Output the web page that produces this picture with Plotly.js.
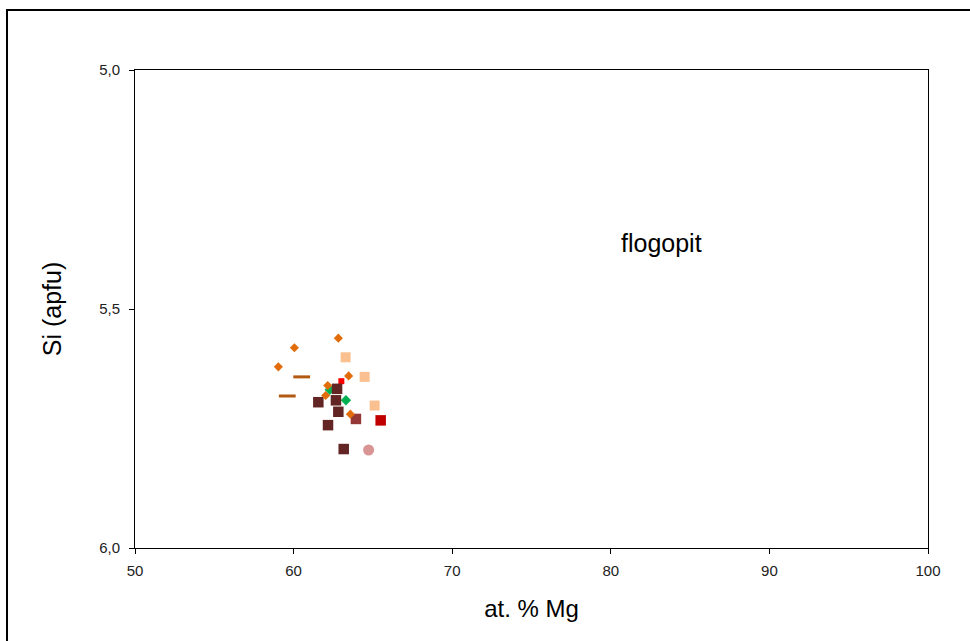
<!DOCTYPE html>
<html><head><meta charset="utf-8">
<script src="https://cdn.plot.ly/plotly-3.0.1.min.js"></script>
<style>html,body{margin:0;padding:0;background:#fff}#chart{width:970px;height:641px}</style>
</head><body><div id="chart"></div>
<script>
// Data
const peachX = [63.28, 64.48, 65.11];
const peachY = [5.601, 5.642, 5.702];
const redSmallX = [63.01];
const redSmallY = [5.651];
const greenX = [62.28, 63.30];
const greenY = [5.669, 5.691];
const darkX = [62.74, 61.56, 62.67, 62.82, 62.17, 63.16];
const darkY = [5.667, 5.695, 5.691, 5.715, 5.743, 5.793];
const medX = [63.93];
const medY = [5.730];
const redX = [65.49];
const redY = [5.733];
const pinkX = [64.73];
const pinkY = [5.795];
const dashX = [60.51, 59.60];
const dashY = [5.642, 5.682];
const orangeX = [62.82, 60.05, 59.04, 63.47, 62.15, 62.02, 63.58];
const orangeY = [5.561, 5.581, 5.621, 5.640, 5.660, 5.681, 5.720];
const xTicks = [50, 60, 70, 80, 90, 100];
const yTicks = [5.0, 5.5, 6.0];
const labelText = "flogopit";

function tr(x, y, symbol, color, size, extra) {
  return Object.assign({
    x: x, y: y, type: 'scatter', mode: 'markers', hoverinfo: 'skip',
    marker: {symbol: symbol, color: color, size: size, line: {width: 0}}
  }, extra || {});
}
const data = [
  tr(peachX, peachY, 'square', '#FAC090', 10),
  tr(redSmallX, redSmallY, 'square', '#FF0000', 6),
  tr(greenX, greenY, 'diamond', '#00B050', 8),
  tr(darkX, darkY, 'square', '#632523', 10.5),
  tr(medX, medY, 'square', '#953735', 10.5),
  tr(redX, redY, 'square', '#C00000', 10.5),
  tr(pinkX, pinkY, 'circle', '#D99594', 11),
  {x: dashX, y: dashY, type: 'scatter', mode: 'markers', hoverinfo: 'skip',
   marker: {symbol: 'line-ew', size: 12, color: '#B35A12', line: {width: 3, color: '#B35A12'}}},
  tr(orangeX, orangeY, 'diamond', '#E36C0A', 7)
];

const layout = {
  width: 970, height: 641,
  margin: {l: 135, r: 42, t: 70, b: 93},
  paper_bgcolor: '#fff', plot_bgcolor: '#fff',
  showlegend: false,
  separators: ',.',
  font: {family: 'Liberation Sans, Arial, sans-serif', color: '#000'},
  xaxis: {
    range: [50, 100], tickvals: xTicks, ticktext: xTicks.map(String),
    showgrid: false, zeroline: false, showline: true, linecolor: '#000', linewidth: 1, mirror: true,
    ticks: 'outside', ticklen: 5, tickcolor: '#000', tickfont: {size: 15, color: '#222'},
    ticklabelstandoff: 4,
    title: {text: 'at. % Mg', font: {size: 24, color: '#000'}, standoff: 22}
  },
  yaxis: {
    range: [6.0, 5.0], tickvals: yTicks, tickformat: '.1f',
    showgrid: false, zeroline: false, showline: true, linecolor: '#000', linewidth: 1, mirror: true,
    ticks: 'outside', ticklen: 5, tickcolor: '#000', tickfont: {size: 15, color: '#222'},
    ticklabelstandoff: 6,
    title: {text: 'Si (apfu)', font: {size: 25, color: '#000'}, standoff: 30}
  },
  annotations: [{
    x: 83.17, y: 5.362, xref: 'x', yref: 'y', text: labelText, showarrow: false,
    font: {size: 25, color: '#000'}
  }],
  shapes: [{
    type: 'rect', xref: 'paper', yref: 'paper',
    x0: -0.1614, x1: 1.06, y0: -0.25, y1: 1.1255,
    line: {color: '#000', width: 2}, fillcolor: 'rgba(0,0,0,0)', layer: 'below'
  }]
};
Plotly.newPlot('chart', data, layout, {staticPlot: true});
</script></body></html>
